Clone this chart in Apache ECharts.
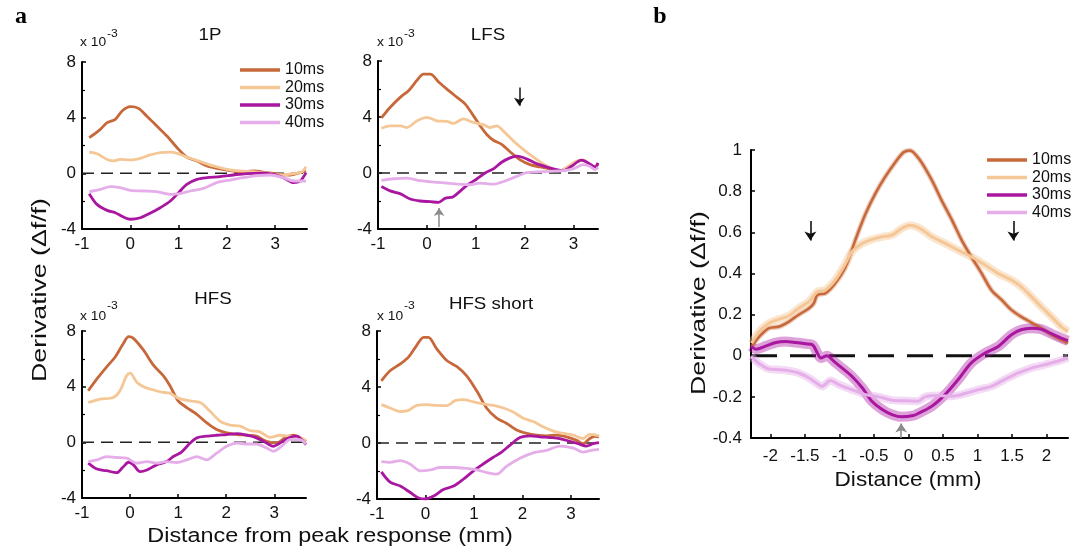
<!DOCTYPE html>
<html><head><meta charset="utf-8">
<script src="https://cdn.jsdelivr.net/npm/echarts@6/dist/echarts.min.js"></script>
<style>html,body{margin:0;padding:0;background:#fff}#c{width:1078px;height:551px}</style>
</head><body><div id="c"></div>
<script>
// ---------- labels & ticks ----------
const seriesNames = ['10ms', '20ms', '30ms', '40ms'];
const panelTitles = ['1P', 'LFS', 'HFS', 'HFS short'];
const aXTicks = [-1, 0, 1, 2, 3];
const bXTicks = [-2, -1.5, -1, -0.5, 0, 0.5, 1, 1.5, 2];

// ---------- panel a : 1P (values x 10^-3) ----------
const p1_10 = [[-0.85,2.56],[-0.62,3.16],[-0.48,3.64],[-0.31,3.88],[-0.17,4.48],[0,4.79],[0.17,4.67],[0.34,4.12],[0.55,3.4],[0.76,2.68],[0.97,1.84],[1.17,1.17],[1.38,0.89],[1.59,0.53],[1.79,0.36],[2.0,0.24],[2.28,0.12],[2.55,0.17],[2.83,0.05],[3.1,-0.07],[3.31,-0.12],[3.52,0.05],[3.64,0.17]];
const p1_20 = [[-0.85,1.53],[-0.69,1.41],[-0.48,1.0],[-0.34,0.89],[-0.21,1.0],[0,0.96],[0.21,1.08],[0.41,1.32],[0.62,1.49],[0.83,1.53],[0.97,1.44],[1.17,1.17],[1.45,0.84],[1.72,0.53],[2.0,0.29],[2.28,0.17],[2.55,0.12],[2.83,0],[3.1,-0.12],[3.38,-0.02],[3.55,0.1],[3.64,0.48]];
const p1_30 = [[-0.85,-1.46],[-0.69,-2.23],[-0.48,-2.66],[-0.31,-2.83],[-0.14,-3.14],[0,-3.3],[0.21,-3.19],[0.41,-2.87],[0.62,-2.47],[0.83,-1.99],[1.0,-1.39],[1.17,-0.79],[1.38,-0.43],[1.59,-0.31],[1.86,-0.24],[2.14,-0.12],[2.41,-0.02],[2.69,0.02],[2.97,-0.07],[3.17,-0.31],[3.38,-0.67],[3.52,-0.55],[3.64,0.05]];
const p1_40 = [[-0.85,-1.32],[-0.62,-1.15],[-0.41,-0.96],[-0.21,-1.03],[0,-1.22],[0.28,-1.27],[0.55,-1.32],[0.83,-1.51],[1.03,-1.46],[1.24,-1.27],[1.52,-1.08],[1.79,-0.67],[2.07,-0.48],[2.34,-0.31],[2.62,-0.17],[2.9,-0.12],[3.17,-0.31],[3.38,-0.55],[3.64,-0.55]];

// ---------- panel a : LFS ----------
const lfs_10 = [[-0.93,3.93],[-0.75,4.7],[-0.54,5.42],[-0.37,5.9],[-0.2,6.63],[-0.07,7.06],[0.07,7.06],[0.24,6.5],[0.44,5.9],[0.61,5.42],[0.78,4.94],[0.95,4.1],[1.09,3.37],[1.22,2.77],[1.36,2.34],[1.53,2.05],[1.7,1.52],[1.9,0.96],[2.11,0.6],[2.31,0.43],[2.52,0.29],[2.72,0.17],[2.89,0.41],[3.06,0.8],[3.2,0.92],[3.33,0.6],[3.44,0.41],[3.5,0.67]];
const lfs_20 = [[-0.93,3.2],[-0.75,3.37],[-0.54,3.37],[-0.41,3.25],[-0.2,3.73],[0,3.98],[0.2,3.73],[0.41,3.69],[0.54,3.54],[0.75,3.86],[0.95,3.61],[1.16,3.45],[1.29,3.25],[1.43,3.37],[1.56,3.01],[1.77,2.29],[1.97,1.69],[2.18,1.13],[2.38,0.65],[2.59,0.29],[2.72,0.17],[2.89,0.48],[3.1,0.89],[3.23,0.89],[3.37,0.43],[3.5,0.55]];
const lfs_30 = [[-0.93,-0.96],[-0.75,-1.28],[-0.54,-1.49],[-0.34,-1.86],[-0.14,-2.0],[0.07,-2.05],[0.24,-2.1],[0.37,-1.81],[0.54,-1.69],[0.71,-1.2],[0.85,-0.8],[1.02,-0.43],[1.19,0],[1.36,0.29],[1.53,0.77],[1.7,1.08],[1.84,1.2],[2.04,1.01],[2.24,0.67],[2.45,0.43],[2.65,0.24],[2.79,0.17],[2.96,0.48],[3.16,0.92],[3.3,0.72],[3.44,0.43],[3.5,0.72]];
const lfs_40 = [[-0.93,-0.53],[-0.68,-0.41],[-0.41,-0.36],[-0.14,-0.55],[0.14,-0.65],[0.41,-0.72],[0.68,-0.8],[0.88,-0.84],[1.09,-0.72],[1.36,-0.8],[1.63,-0.53],[1.84,-0.24],[2.04,0.02],[2.24,0.07],[2.52,0.12],[2.79,0.17],[2.99,0.29],[3.2,0.6],[3.33,0.48],[3.44,0.24],[3.5,0.41]];

// ---------- panel a : HFS ----------
const hfs_10 = [[-0.87,3.71],[-0.69,4.56],[-0.49,5.41],[-0.31,6.13],[-0.14,7.1],[-0.03,7.59],[0.07,7.47],[0.28,6.62],[0.49,5.53],[0.69,4.8],[0.83,4.07],[1.0,2.98],[1.18,2.5],[1.39,2.01],[1.59,1.41],[1.8,0.92],[2.01,0.68],[2.22,0.56],[2.43,0.51],[2.63,0.44],[2.84,0.07],[3.05,-0.05],[3.22,0.32],[3.4,0.51],[3.57,0.27],[3.66,0.07]];
const hfs_20 = [[-0.87,2.86],[-0.62,3.1],[-0.35,3.22],[-0.21,3.71],[-0.07,4.8],[0,4.97],[0.14,4.32],[0.28,4.0],[0.49,3.76],[0.69,3.59],[0.83,3.54],[1.0,3.18],[1.25,2.98],[1.46,2.86],[1.66,2.25],[1.87,1.53],[2.08,1.24],[2.29,1.16],[2.49,0.85],[2.7,0.75],[2.91,0.36],[3.12,0.51],[3.33,0.44],[3.53,0.36],[3.66,0.12]];
const hfs_30 = [[-0.87,-1.5],[-0.69,-1.92],[-0.49,-2.04],[-0.28,-2.18],[-0.14,-1.75],[-0.03,-1.43],[0.07,-1.62],[0.21,-2.11],[0.35,-1.99],[0.55,-1.62],[0.76,-1.38],[0.9,-1.02],[1.07,-0.7],[1.25,-0.05],[1.39,0.32],[1.59,0.44],[1.8,0.51],[2.01,0.56],[2.22,0.63],[2.43,0.51],[2.63,0.32],[2.84,-0.05],[2.98,-0.29],[3.12,-0.05],[3.33,0.36],[3.47,0.44],[3.57,0.19],[3.66,-0.17]];
const hfs_40 = [[-0.87,-1.38],[-0.69,-1.26],[-0.49,-1.02],[-0.28,-1.09],[-0.07,-1.14],[0.14,-1.5],[0.35,-1.38],[0.55,-1.5],[0.76,-1.38],[0.97,-1.45],[1.18,-1.26],[1.39,-1.02],[1.59,-1.26],[1.8,-0.78],[2.01,-0.29],[2.22,-0.05],[2.43,-0.12],[2.63,-0.12],[2.84,-0.41],[2.98,-0.65],[3.15,-0.29],[3.33,0.19],[3.53,0.19],[3.66,-0.12]];

// ---------- panel a : HFS short ----------
const hfss_10 = [[-0.91,4.44],[-0.73,5.16],[-0.52,5.65],[-0.35,6.13],[-0.18,6.98],[-0.04,7.54],[0.06,7.54],[0.23,6.74],[0.44,5.89],[0.65,5.45],[0.85,4.8],[1.06,3.71],[1.26,2.5],[1.47,1.77],[1.67,1.41],[1.88,0.92],[2.09,0.68],[2.29,0.56],[2.5,0.51],[2.7,0.56],[2.91,0.44],[3.12,0.19],[3.25,-0.05],[3.39,0.32],[3.49,0.48],[3.58,0.44]];
const hfss_20 = [[-0.91,2.74],[-0.73,2.5],[-0.52,2.25],[-0.35,2.33],[-0.18,2.69],[0.03,2.74],[0.23,2.69],[0.44,2.67],[0.61,3.03],[0.78,3.1],[0.99,2.93],[1.19,2.79],[1.4,2.69],[1.61,2.5],[1.81,2.21],[2.02,1.77],[2.22,1.53],[2.43,1.16],[2.64,0.85],[2.84,0.68],[3.05,0.56],[3.25,0.32],[3.39,0.61],[3.58,0.51]];
const hfss_30 = [[-0.91,-2.06],[-0.73,-2.79],[-0.52,-3.08],[-0.32,-3.52],[-0.14,-3.93],[0,-4.0],[0.16,-3.81],[0.37,-3.32],[0.58,-3.08],[0.78,-2.59],[0.99,-1.99],[1.19,-1.5],[1.4,-1.02],[1.57,-0.65],[1.74,-0.17],[1.95,0.39],[2.16,0.51],[2.36,0.44],[2.57,0.39],[2.77,0.32],[2.98,0.12],[3.15,-0.05],[3.32,-0.22],[3.46,-0.05],[3.58,0.02]];
const hfss_40 = [[-0.91,-1.33],[-0.73,-1.38],[-0.52,-1.26],[-0.32,-1.5],[-0.11,-1.99],[0.1,-1.92],[0.3,-1.75],[0.58,-1.75],[0.85,-1.82],[1.06,-1.92],[1.26,-2.11],[1.47,-2.23],[1.67,-1.67],[1.95,-1.09],[2.22,-0.7],[2.5,-0.53],[2.77,-0.22],[3.05,-0.36],[3.25,-0.65],[3.42,-0.53],[3.58,-0.46]];

// ---------- panel b ----------
const b_10 = [[-2.27,0.045],[-2.16,0.093],[-2.02,0.134],[-1.87,0.142],[-1.73,0.166],[-1.59,0.199],[-1.44,0.231],[-1.37,0.255],[-1.32,0.295],[-1.2,0.304],[-1.06,0.352],[-0.91,0.432],[-0.77,0.562],[-0.62,0.691],[-0.48,0.788],[-0.34,0.868],[-0.19,0.941],[-0.07,0.989],[0.02,0.998],[0.17,0.949],[0.34,0.852],[0.48,0.755],[0.63,0.659],[0.77,0.562],[0.91,0.481],[1.06,0.4],[1.2,0.32],[1.35,0.271],[1.49,0.223],[1.63,0.19],[1.78,0.161],[1.92,0.134],[2.07,0.102],[2.21,0.077],[2.31,0.061]];
const b_20 = [[-2.27,0.061],[-2.16,0.118],[-2.02,0.158],[-1.87,0.178],[-1.73,0.194],[-1.59,0.231],[-1.44,0.263],[-1.32,0.311],[-1.2,0.32],[-1.06,0.368],[-0.91,0.449],[-0.82,0.505],[-0.67,0.546],[-0.53,0.565],[-0.38,0.578],[-0.24,0.586],[-0.1,0.618],[0.02,0.634],[0.17,0.618],[0.34,0.578],[0.53,0.546],[0.72,0.513],[0.91,0.481],[1.11,0.441],[1.3,0.4],[1.49,0.368],[1.63,0.336],[1.78,0.287],[1.92,0.239],[2.07,0.19],[2.21,0.142],[2.31,0.118]];
const b_30 = [[-2.28,0.045],[-2.21,0.032],[-2.06,0.048],[-1.92,0.064],[-1.78,0.069],[-1.63,0.064],[-1.49,0.058],[-1.39,0.053],[-1.32,0.013],[-1.27,-0.011],[-1.18,0.0],[-1.08,-0.027],[-0.96,-0.06],[-0.82,-0.1],[-0.67,-0.156],[-0.53,-0.221],[-0.38,-0.262],[-0.24,-0.286],[-0.1,-0.297],[0.07,-0.291],[0.14,-0.281],[0.34,-0.245],[0.53,-0.189],[0.72,-0.116],[0.91,-0.035],[1.11,0.013],[1.3,0.045],[1.49,0.102],[1.63,0.126],[1.78,0.134],[1.92,0.129],[2.07,0.107],[2.21,0.086],[2.31,0.073]];
const b_40 = [[-2.28,-0.003],[-2.16,-0.039],[-2.02,-0.065],[-1.87,-0.068],[-1.73,-0.073],[-1.59,-0.084],[-1.44,-0.108],[-1.32,-0.136],[-1.25,-0.149],[-1.13,-0.12],[-1.01,-0.14],[-0.82,-0.165],[-0.62,-0.189],[-0.43,-0.2],[-0.24,-0.216],[-0.05,-0.219],[0.14,-0.221],[0.24,-0.2],[0.43,-0.194],[0.63,-0.197],[0.82,-0.184],[1.01,-0.165],[1.2,-0.149],[1.39,-0.116],[1.59,-0.084],[1.78,-0.06],[1.97,-0.044],[2.16,-0.027],[2.31,-0.011]];

// ---------- build ----------
const FONT = '"Liberation Sans", Arial, Helvetica, sans-serif';
const colors = ['#c7683a', '#f5c796', '#a9169f', '#e5aee9'];
const AX = '#000';

const aPanels = [
  { grid: { left: 82, top: 62, width: 225, height: 167 }, x: [-1, 3.66], data: [p1_10, p1_20, p1_30, p1_40] },
  { grid: { left: 378, top: 61, width: 220, height: 168 }, x: [-1, 3.5], data: [lfs_10, lfs_20, lfs_30, lfs_40] },
  { grid: { left: 82, top: 331, width: 224, height: 167 }, x: [-1, 3.66], data: [hfs_10, hfs_20, hfs_30, hfs_40] },
  { grid: { left: 377, top: 331, width: 222, height: 168 }, x: [-1, 3.58], data: [hfss_10, hfss_20, hfss_30, hfss_40] }
];

const grids = [], xAxes = [], yAxes = [], series = [];
const axisLine = { show: true, onZero: false, lineStyle: { color: AX, width: 2 } };

aPanels.forEach((p, i) => {
  grids.push(Object.assign({ containLabel: false }, p.grid));
  xAxes.push({
    gridIndex: i, type: 'value', min: p.x[0], max: p.x[1],
    axisLine: axisLine,
    axisTick: { show: true, inside: true, length: 4, lineStyle: { color: AX, width: 1.5 }, customValues: aXTicks },
    axisLabel: { customValues: aXTicks, fontSize: 17, color: '#111', fontFamily: FONT, margin: 7 },
    splitLine: { show: false }
  });
  yAxes.push({
    gridIndex: i, type: 'value', min: -4, max: 8, interval: 4,
    axisLine: axisLine,
    axisTick: { show: true, inside: true, length: 4, lineStyle: { color: AX, width: 1.5 } },
    minorTick: { show: true, splitNumber: 2, length: 3, lineStyle: { color: AX, width: 1.2 } },
    axisLabel: { fontSize: 17, color: '#111', fontFamily: FONT, margin: 6 },
    splitLine: { show: false }, minorSplitLine: { show: false }
  });
  const zero = {
    type: 'line', xAxisIndex: i, yAxisIndex: i, data: [[p.x[0], 0], [p.x[1], 0]],
    showSymbol: false, silent: true, z: 1,
    lineStyle: { color: '#222', width: 1.5, type: [12, 7] }
  };
  if (i === 1) {
    zero.markLine = {
      silent: true, symbol: ['none', 'arrow'], symbolSize: 8, label: { show: false },
      lineStyle: { type: 'solid', width: 1.5 },
      data: [
        [{ coord: [1.89, 6.1], lineStyle: { color: '#111' } }, { coord: [1.89, 4.8] }],
        [{ coord: [0.25, -3.85], lineStyle: { color: '#8c8c8c' } }, { coord: [0.25, -2.5] }]
      ]
    };
  }
  series.push(zero);
  p.data.forEach((d, k) => {
    series.push({
      name: seriesNames[k], type: 'line', xAxisIndex: i, yAxisIndex: i, data: d,
      showSymbol: false, smooth: 0.3, silent: true, z: 3,
      itemStyle: { color: colors[k] },
      lineStyle: { color: colors[k], width: 2.8 }
    });
  });
});

// panel b
const bi = 4;
grids.push({ left: 751, top: 150, width: 317, height: 288, containLabel: false });
xAxes.push({
  gridIndex: bi, type: 'value', min: -2.28, max: 2.31,
  axisLine: axisLine,
  axisTick: { show: true, inside: true, length: 4, lineStyle: { color: AX, width: 1.5 }, customValues: bXTicks },
  axisLabel: { customValues: bXTicks, fontSize: 17, color: '#111', fontFamily: FONT, margin: 10 },
  splitLine: { show: false }
});
yAxes.push({
  gridIndex: bi, type: 'value', min: -0.4, max: 1, interval: 0.2,
  axisLine: axisLine,
  axisTick: { show: true, inside: true, length: 4, lineStyle: { color: AX, width: 1.5 } },
  axisLabel: { fontSize: 17, color: '#111', fontFamily: FONT, margin: 9 },
  splitLine: { show: false }
});
series.push({
  type: 'line', xAxisIndex: bi, yAxisIndex: bi, data: [[-2.28, 0], [2.31, 0]],
  showSymbol: false, silent: true, z: 1, clip: false,
  lineStyle: { color: '#111', width: 3, type: [26, 13] },
  markLine: {
    silent: true, symbol: ['none', 'arrow'], symbolSize: 9, label: { show: false },
    lineStyle: { type: 'solid', width: 1.6 },
    data: [
      [{ coord: [-1.42, 0.655], lineStyle: { color: '#111' } }, { coord: [-1.42, 0.56] }],
      [{ coord: [1.52, 0.655], lineStyle: { color: '#111' } }, { coord: [1.52, 0.56] }],
      [{ coord: [-0.105, -0.4], lineStyle: { color: '#8c8c8c' } }, { coord: [-0.105, -0.33] }]
    ]
  }
});
const bData = [b_10, b_20, b_30, b_40];
const bandW = [5, 8, 10, 8];
const bandO = [0.35, 0.45, 0.4, 0.45];
bData.forEach((d, k) => {
  series.push({
    type: 'line', xAxisIndex: bi, yAxisIndex: bi, data: d, showSymbol: false, smooth: 0.3, silent: true, z: 2,
    lineStyle: { color: colors[k], width: bandW[k], opacity: bandO[k] }
  });
});
bData.forEach((d, k) => {
  series.push({
    name: seriesNames[k], type: 'line', xAxisIndex: bi, yAxisIndex: bi, data: d,
    showSymbol: false, smooth: 0.3, silent: true, z: 3,
    itemStyle: { color: colors[k] },
    lineStyle: { color: colors[k], width: k === 0 ? 2.5 : 3 }
  });
});

const legendBase = {
  orient: 'vertical', icon: 'rect', itemWidth: 40, itemHeight: 3.5, itemGap: 1.5,
  selectedMode: false, data: seriesNames,
  textStyle: { fontSize: 16, lineHeight: 15.7, color: '#111', fontFamily: FONT }
};

function txt(x, y, text, size, opts) {
  return Object.assign({
    type: 'text', x: x, y: y, silent: true,
    style: Object.assign({ text: text, fontSize: size, fontFamily: FONT, fill: '#111', align: 'center', verticalAlign: 'middle' }, (opts && opts.style) || {})
  }, (opts && opts.el) || {});
}

const graphics = [
  txt(21, 17, 'a', 24, { style: { fontFamily: '"Liberation Serif", serif', fontWeight: 'bold', fill: '#000' } }),
  txt(660, 17, 'b', 24, { style: { fontFamily: '"Liberation Serif", serif', fontWeight: 'bold', fill: '#000' } }),
  txt(210, 35, panelTitles[0], 17, { el: { scaleX: 1.1 } }),
  txt(488, 35, panelTitles[1], 17, { el: { scaleX: 1.1 } }),
  txt(213, 299, panelTitles[2], 17, { el: { scaleX: 1.1 } }),
  txt(491, 304, panelTitles[3], 17, { el: { scaleX: 1.1 } }),
  // x 10^-3 multipliers
  txt(80, 43, 'x 10', 12, { style: { align: 'left' }, el: { scaleX: 1.15 } }),
  txt(107, 34, '-3', 11, { style: { align: 'left' }, el: { scaleX: 1.1 } }),
  txt(377, 43, 'x 10', 12, { style: { align: 'left' }, el: { scaleX: 1.15 } }),
  txt(404, 34, '-3', 11, { style: { align: 'left' }, el: { scaleX: 1.1 } }),
  txt(80, 317, 'x 10', 12, { style: { align: 'left' }, el: { scaleX: 1.15 } }),
  txt(107, 306, '-3', 11, { style: { align: 'left' }, el: { scaleX: 1.1 } }),
  txt(377, 317, 'x 10', 12, { style: { align: 'left' }, el: { scaleX: 1.15 } }),
  txt(404, 306, '-3', 11, { style: { align: 'left' }, el: { scaleX: 1.1 } }),
  // axis names
  txt(40, 290, 'Derivative (Δf/f)', 21, { el: { rotation: Math.PI / 2, scaleX: 1.27 } }),
  txt(330, 537, 'Distance from peak response (mm)', 19.5, { el: { scaleX: 1.2 } }),
  txt(699, 303, 'Derivative (Δf/f)', 21, { el: { rotation: Math.PI / 2, scaleX: 1.27 } }),
  txt(908, 480, 'Distance (mm)', 20, { el: { scaleX: 1.13 } })
];

const chart = echarts.init(document.getElementById('c'), null, { renderer: 'canvas' });
chart.setOption({
  backgroundColor: '#fff',
  animation: false,
  grid: grids, xAxis: xAxes, yAxis: yAxes,
  legend: [
    Object.assign({}, legendBase, { left: 235, top: 57 }),
    Object.assign({}, legendBase, { left: 982, top: 147 })
  ],
  series: series,
  graphic: graphics
});
</script></body></html>
